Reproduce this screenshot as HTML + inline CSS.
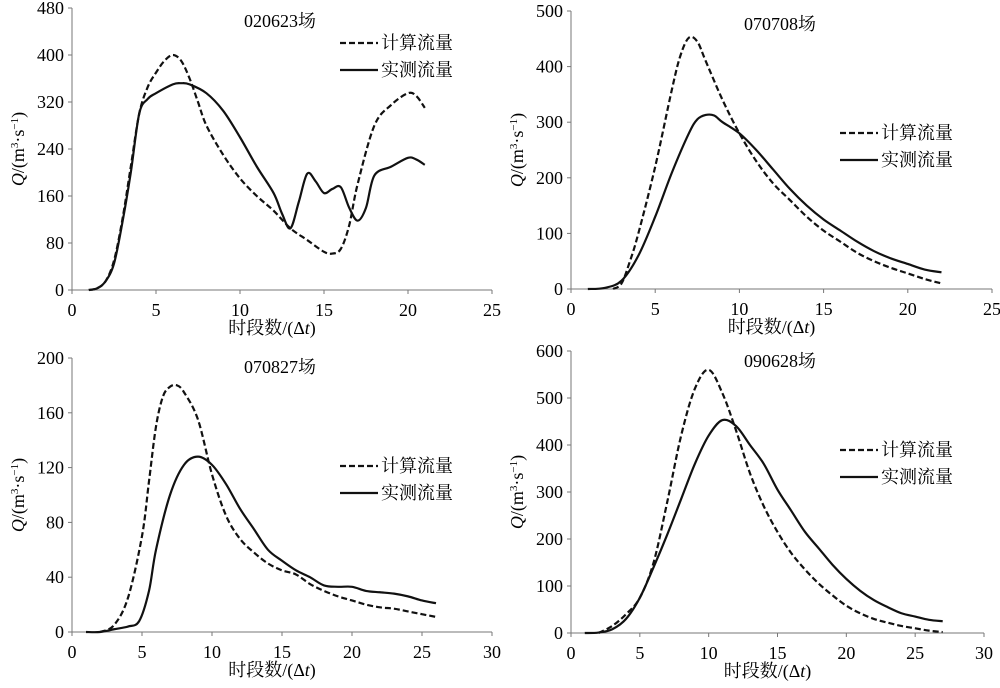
<!DOCTYPE html>
<html><head><meta charset="utf-8"><style>
html,body{margin:0;padding:0;background:#fff;}
svg{display:block;font-family:"Liberation Serif","Noto Serif CJK SC",serif;}
</style></head><body>
<svg id="c" width="1000" height="688" viewBox="0 0 1000 688"></svg>
<script>
const titles=["020623场","070708场","070827场","090628场"];
const xMaxes=[25,25,30,30];
const yMaxes=[480,500,200,600];
const yStepVals=[80,100,40,100];
const xStepVals=[5,5,5,5];
const calcX1=[1,1.5,2,2.5,3,3.5,4,4.5,5,5.5,6,6.5,7,7.5,8,9,10,11,12,13,14,15,15.5,16,16.5,17,18,19,20,20.5,21];
const calcY1=[0,3,15,50,120,210,300,345,370,390,400,390,360,320,280,230,190,160,135,105,85,65,62,70,110,180,280,315,335,330,310];
const obsX1=[1,1.5,2,2.5,3,3.5,4,4.5,5,6,6.5,7,8,9,10,11,12,12.5,13,13.5,14,14.5,15,15.5,16,16.5,17,17.5,18,19,20,20.5,21];
const obsY1=[0,3,15,45,115,200,300,325,335,350,352,350,335,305,260,210,165,130,105,150,198,185,165,172,175,140,118,140,195,210,225,222,213];
const calcX2=[2.5,3,3.5,4,5,6,6.5,7,7.5,8,9,10,11,12,13,14,15,16,17,18,19,20,21,22];
const calcY2=[0,10,50,100,220,360,420,452,445,410,340,280,230,190,160,130,105,85,65,50,38,28,18,10];
const obsX2=[1,2,3,4,5,6,7,7.5,8,8.5,9,10,11,12,13,14,15,16,17,18,19,20,21,22];
const obsY2=[0,2,15,60,130,210,280,305,313,312,300,280,250,215,180,150,125,105,85,68,55,45,35,30];
const calcX3=[2,3,4,5,5.5,6,6.5,7,7.5,8,9,10,11,12,13,14,15,16,17,18,19,20,21,22,23,24,25,26];
const calcY3=[0,5,25,70,110,150,172,179,180,175,155,115,85,68,58,50,45,42,35,30,26,23,20,18,17,15,13,11];
const obsX3=[1,2,3,4,4.8,5.5,6,7,8,9,10,11,12,13,14,15,16,17,18,19,20,21,22,23,24,25,26];
const obsY3=[0,0,2,4,8,30,60,100,122,128,122,108,90,75,60,52,45,40,34,33,33,30,29,28,26,23,21];
const calcX4=[2,3,4,5,6,7,8,9,10,11,12,13,14,15,16,17,18,19,20,21,22,23,24,25,26,27];
const calcY4=[0,15,40,75,150,280,420,520,560,510,430,340,270,215,170,135,105,80,58,42,30,22,15,10,5,2];
const obsX4=[1,2,3,4,5,6,7,8,9,10,11,12,13,14,15,16,17,18,19,20,21,22,23,24,25,26,27];
const obsY4=[0,1,8,30,75,140,210,285,360,420,453,440,400,360,305,260,215,180,145,115,90,70,55,42,35,28,25];
const series=[[calcX1,calcY1,obsX1,obsY1],[calcX2,calcY2,obsX2,obsY2],[calcX3,calcY3,obsX3,obsY3],[calcX4,calcY4,obsX4,obsY4]];
const boxes=[{x0:72,x1:492,y0:290,y1:8,tx:280,ty:27,lx:340,ly:43},
 {x0:571,x1:992,y0:289,y1:11,tx:780,ty:30,lx:840,ly:133},
 {x0:72,x1:492,y0:632,y1:358,tx:280,ty:373,lx:340,ly:466},
 {x0:571,x1:984,y0:633,y1:351,tx:780,ty:367,lx:840,ly:450}];
const NS="http://www.w3.org/2000/svg";
const svg=document.getElementById('c');
function mk(t,a,p){const e=document.createElementNS(NS,t);for(const k in a)e.setAttribute(k,a[k]);(p||svg).appendChild(e);return e;}
function path(xs,ys,sx,sy){const P=xs.map((x,i)=>[sx(x),sy(ys[i])]);let d="M"+P[0][0]+","+P[0][1];
 for(let i=0;i<P.length-1;i++){const p0=P[Math.max(0,i-1)],p1=P[i],p2=P[i+1],p3=P[Math.min(P.length-1,i+2)];
 d+=" C"+(p1[0]+(p2[0]-p0[0])/6)+","+(p1[1]+(p2[1]-p0[1])/6)+" "+(p2[0]-(p3[0]-p1[0])/6)+","+(p2[1]-(p3[1]-p1[1])/6)+" "+p2[0]+","+p2[1];}
 return d;}
boxes.forEach((b,k)=>{
 const g=mk('g',{});
 
 
 const sx=v=>b.x0+(b.x1-b.x0)*v/xMaxes[k], sy=v=>b.y0+(b.y1-b.y0)*v/yMaxes[k];
 const ax=mk('line',{x1:b.x0,y1:b.y0,x2:b.x1,y2:b.y0,stroke:'#777','stroke-width':1},g);
 
 const ay=mk('line',{x1:b.x0,y1:b.y0,x2:b.x0,y2:b.y1,stroke:'#777','stroke-width':1},g);
 
 for(let v=0;v<=xMaxes[k];v+=xStepVals[k]){mk('line',{x1:sx(v),y1:b.y0,x2:sx(v),y2:b.y0+4,stroke:'#777'},g);
  const t=mk('text',{x:sx(v),y:b.y0+26,'text-anchor':'middle','font-size':18},g);t.textContent=v;
  }
 for(let v=0;v<=yMaxes[k];v+=yStepVals[k]){mk('line',{x1:b.x0-4,y1:sy(v),x2:b.x0,y2:sy(v),stroke:'#777'},g);
  const t=mk('text',{x:b.x0-8,y:sy(v)+6,'text-anchor':'end','font-size':18},g);t.textContent=v;
  }
 const xl=mk('text',{x:(b.x0+b.x1)/2-10,y:b.y0+44,'text-anchor':'middle','font-size':18},g);
 xl.innerHTML='时段数/(Δ<tspan font-style="italic">t</tspan>)';
 
 const cy=(b.y0+b.y1)/2;
 const yl=mk('text',{x:0,y:0,'text-anchor':'middle','font-size':18,transform:`translate(${b.x0-48},${cy}) rotate(-90)`},g);
 yl.innerHTML='<tspan font-style="italic">Q</tspan>/(m<tspan font-size="11" dy="-6">3</tspan><tspan dy="6">·s</tspan><tspan font-size="11" dy="-6">−1</tspan><tspan dy="6">)</tspan>';
 
 const tt=mk('text',{x:b.tx,y:b.ty,'text-anchor':'middle','font-size':18},g);tt.textContent=titles[k];
 
 const s=series[k];
 const c=mk('path',{d:path(s[0],s[1],sx,sy),fill:'none',stroke:'#111','stroke-width':2.2,'stroke-dasharray':'6,3'},g);
 
 const o=mk('path',{d:path(s[2],s[3],sx,sy),fill:'none',stroke:'#111','stroke-width':2.2},g);
 
 const l1=mk('line',{x1:b.lx,y1:b.ly,x2:b.lx+38,y2:b.ly,stroke:'#111','stroke-width':2.2,'stroke-dasharray':'6,3'},g);
 
 const t1=mk('text',{x:b.lx+41,y:b.ly+6,'font-size':18},g);t1.textContent='计算流量';
 
 const l2=mk('line',{x1:b.lx,y1:b.ly+27,x2:b.lx+38,y2:b.ly+27,stroke:'#111','stroke-width':2.2},g);
 
 const t2=mk('text',{x:b.lx+41,y:b.ly+33,'font-size':18},g);t2.textContent='实测流量';
 
});
</script>
</body></html>
